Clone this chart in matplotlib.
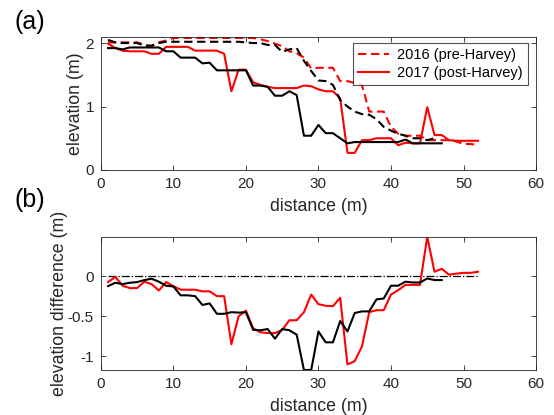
import numpy as np
import matplotlib
matplotlib.use("Agg")
from matplotlib import pyplot as plt

plt.rcParams['font.family'] = ['Liberation Sans', 'DejaVu Sans']

# distance along transect (m)
dist_red = np.arange(1, 53)
dist_black = np.arange(1, 48)

# elevation (m), red transect
red_2016 = [2.01, 2.01, 2.01, 2.01, 2.01, 1.97, 1.95, 2.01, 2.04, 2.08,
            2.08, 2.08, 2.08, 2.08, 2.08, 2.08, 2.08, 2.08, 2.08, 2.08,
            2.08, 2.06, 2.03, 1.99, 1.95, 1.87, 1.84, 1.77, 1.60, 1.61,
            1.61, 1.61, 1.40, 1.40, 1.37, 1.34, 0.92, 0.92, 0.92, 0.68,
            0.57, 0.54, 0.54, 0.54, 0.47, 0.47, 0.47, 0.47, 0.45, 0.41,
            0.41, 0.39]
red_2017 = [1.99, 1.92, 1.88, 1.87, 1.87, 1.87, 1.83, 1.83, 1.94, 1.94,
            1.94, 1.94, 1.88, 1.88, 1.88, 1.88, 1.83, 1.24, 1.58, 1.58,
            1.38, 1.34, 1.31, 1.29, 1.29, 1.29, 1.29, 1.33, 1.32, 1.27,
            1.24, 1.24, 1.13, 0.27, 0.27, 0.47, 0.47, 0.50, 0.50, 0.50,
            0.39, 0.43, 0.42, 0.42, 0.99, 0.55, 0.55, 0.47, 0.46, 0.46,
            0.46, 0.46]

# elevation (m), black transect
black_2016 = [2.05, 2.01, 2.00, 2.00, 2.00, 1.96, 1.96, 2.00, 2.02, 2.02,
              2.02, 2.02, 2.02, 2.02, 2.02, 2.02, 2.02, 2.02, 2.02, 2.01,
              2.00, 2.00, 1.97, 1.97, 1.86, 1.90, 1.92, 1.72, 1.56, 1.41,
              1.40, 1.34, 1.10, 1.00, 0.92, 0.88, 0.87, 0.80, 0.68, 0.62,
              0.57, 0.54, 0.50, 0.50, 0.47, 0.50]
black_2017 = [1.92, 1.92, 1.90, 1.93, 1.93, 1.93, 1.93, 1.93, 1.87, 1.87,
              1.77, 1.77, 1.77, 1.68, 1.69, 1.57, 1.57, 1.57, 1.57, 1.57,
              1.33, 1.33, 1.31, 1.17, 1.17, 1.24, 1.18, 0.54, 0.54, 0.71,
              0.58, 0.58, 0.50, 0.42, 0.44, 0.44, 0.44, 0.44, 0.44, 0.44,
              0.44, 0.48, 0.42, 0.42, 0.42, 0.42, 0.42]

# elevation difference (m)
red_diff = [-0.075, -0.01, -0.12, -0.15, -0.15, -0.07, -0.10, -0.18, -0.075, -0.125,
            -0.17, -0.17, -0.17, -0.19, -0.19, -0.25, -0.25, -0.85, -0.50, -0.43,
            -0.65, -0.70, -0.71, -0.71, -0.67, -0.55, -0.55, -0.45, -0.23, -0.35,
            -0.37, -0.375, -0.27, -1.10, -1.06, -0.875, -0.45, -0.425, -0.425, -0.23,
            -0.175, -0.11, -0.11, -0.11, 0.49, 0.054, 0.09, 0.017, 0.03, 0.04,
            0.04, 0.054]
black_diff = [-0.125, -0.083, -0.10, -0.083, -0.075, -0.05, -0.033, -0.07, -0.12, -0.13,
              -0.24, -0.24, -0.25, -0.36, -0.34, -0.47, -0.47, -0.45, -0.455, -0.45,
              -0.67, -0.675, -0.66, -0.78, -0.66, -0.675, -0.73, -1.17, -1.17, -0.69,
              -0.825, -0.825, -0.56, -0.69, -0.46, -0.44, -0.44, -0.29, -0.28, -0.12,
              -0.12, -0.07, -0.08, -0.08, -0.03, -0.05, -0.05]

edge = (0.15, 0.15, 0.15)
dash = (0, (4, 2.2))
lw = 1.5

fig = plt.figure(figsize=(5.54, 4.15), dpi=100)
ax1 = fig.add_axes([0.182, 0.5904, 0.7856, 0.3212])
ax2 = fig.add_axes([0.182, 0.1084, 0.7856, 0.3212])

ax1.plot(dist_red, red_2016, color='red', ls=dash, lw=lw, label='2016 (pre-Harvey)')
ax1.plot(dist_red, red_2017, color='red', lw=lw, label='2017 (post-Harvey)')
ax1.plot(np.arange(1, len(black_2016) + 1), black_2016, color='black', ls=dash, lw=lw)
ax1.plot(dist_black, black_2017, color='black', lw=lw)
ax1.set_xlim(0, 60)
ax1.set_ylim(0, 2.1)
ax1.set_yticks([0, 1, 2])
ax1.set_ylabel('elevation (m)', fontsize=12.8, color=edge, labelpad=1)
ax1.set_xlabel('distance (m)', fontsize=12.8, color=edge, labelpad=5)
leg = ax1.legend(loc='upper right', fontsize=10.5, frameon=True, fancybox=False,
                 handlelength=2.1, borderpad=0.35, labelspacing=0.25,
                 handletextpad=0.6, borderaxespad=0,
                 bbox_to_anchor=(0.982, 0.953))
leg.get_frame().set_edgecolor(edge)
leg.get_frame().set_linewidth(0.8)

ax2.plot([1, 52], [0, 0], color='black', ls='-.', lw=0.9)
ax2.plot(dist_red, red_diff, color='red', lw=lw)
ax2.plot(dist_black, black_diff, color='black', lw=lw)
ax2.set_xlim(0, 60)
ax2.set_ylim(-1.17, 0.49)
ax2.set_yticks([-1, -0.5, 0])
ax2.set_yticklabels(['-1', '-0.5', '0'])
ax2.set_ylabel('elevation difference (m)', fontsize=12.8, color=edge, labelpad=0)
ax2.set_xlabel('distance (m)', fontsize=12.8, color=edge, labelpad=5)

for ax in (ax1, ax2):
    ax.set_xticks([0, 10, 20, 30, 40, 50, 60])
    ax.tick_params(direction='in', top=True, right=True, length=3.5,
                   width=0.6, labelsize=11, colors=edge, pad=5)
    for s in ax.spines.values():
        s.set_color(edge)
        s.set_linewidth(0.6)

fig.text(0.054, 0.947, '(a)', fontsize=18, ha='center', va='center')
fig.text(0.054, 0.518, '(b)', fontsize=18, ha='center', va='center')

fig.savefig('out.png', dpi=100)
